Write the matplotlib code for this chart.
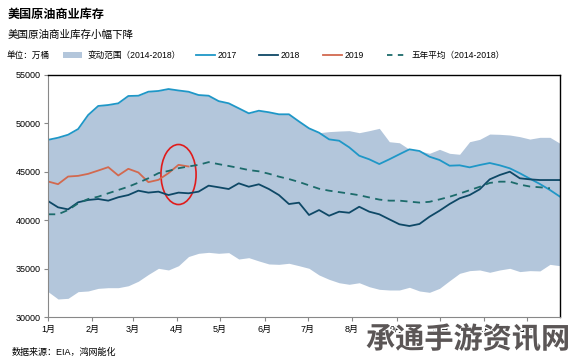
import numpy as np
import matplotlib
matplotlib.use("Agg")
import matplotlib.pyplot as plt
from matplotlib.patches import Ellipse, Rectangle
from matplotlib.lines import Line2D
import matplotlib.patheffects as pe

plt.rcParams['font.family'] = ['Liberation Sans', 'Noto Sans CJK SC']

# weekly values, unit: 10k barrels
band_high = [48300, 48520, 48830, 49420, 50870, 51800, 51900, 52075, 52830, 52860,
             53275, 53350, 53550, 53400, 53270, 52930, 52860, 52300, 52075, 51560,
             51040, 51310, 51150, 50940, 50940, 50200, 49490, 49040, 49150, 49210,
             49250, 49040, 49250, 49490, 48110, 48000, 47320, 47150, 46910, 47320,
             46910, 46810, 48110, 48350, 48900, 48870, 48800, 48630, 48380, 48560,
             48560, 47940]
band_low = [32620, 31860, 31930, 32620, 32690, 32960, 33030, 33030, 33230, 33700,
            34400, 35030, 34860, 35300, 36250, 36580, 36680, 36580, 36650, 35990,
            36130, 35790, 35480, 35440, 35550, 35300, 35030, 34340, 33890, 33540,
            33380, 33540, 33130, 32860, 32790, 32790, 33070, 32690, 32550, 32960,
            33750, 34510, 34790, 34860, 34620, 34860, 35030, 34690, 34790, 34760,
            35440, 35300]
y2017 = [48300, 48520, 48830, 49420, 50870, 51800, 51900, 52075, 52830, 52860,
         53275, 53350, 53550, 53400, 53270, 52930, 52860, 52300, 52075, 51560,
         51040, 51310, 51150, 50940, 50940, 50200, 49490, 49040, 48350, 48210,
         47530, 46660, 46290, 45800, 46290, 46810, 47320, 47150, 46560, 46220,
         45630, 45670, 45460, 45700, 45910, 45670, 45360, 44850, 44290, 43740,
         43120, 42430]
y2018 = [41980, 41330, 41120, 41850, 42090, 42190, 42020, 42370, 42600, 43050,
         42850, 42950, 42600, 42850, 42780, 42950, 43570, 43400, 43220, 43810,
         43460, 43710, 43220, 42600, 41670, 41810, 40540, 41050, 40460, 40880,
         40770, 41390, 40880, 40610, 40090, 39580, 39400, 39610, 40360, 40980,
         41670, 42260, 42600, 43190, 44220, 44670, 45010, 44330, 44220, 44150,
         44150, 44150]
y2019 = [44000, 43720, 44510, 44580, 44790, 45130, 45480, 44620, 45310, 44930,
         43930, 44170, 44860, 45720, 45550]
avg5 = [40610, 40610, 41050, 41740, 42190, 42430, 42780, 43120, 43460, 43880,
        44330, 44860, 45090, 45370, 45550, 45720, 46000, 45790, 45600, 45400,
        45180, 45050, 44800, 44500, 44250, 43950, 43600, 43250, 43050, 42900,
        42750, 42580, 42350, 42130, 42020, 42020, 41920, 41820, 41900, 42150,
        42420, 42750, 43100, 43450, 43850, 43980, 43980, 43680, 43480, 43400,
        43300, 43230]

days = np.arange(len(y2017)) * 7
month_days = [0, 31, 59, 90, 120, 151, 181, 212, 243, 273, 304, 334]
month_labels = ['1月', '2月', '3月', '4月', '5月', '6月', '7月', '8月', '9月', '10月', '11月', '12月']

c_band = '#b3c6db'
c17 = '#1f97c7'
c18 = '#0e4866'
c19 = '#d2694f'
c_avg = '#1c6b6b'

fig = plt.figure(figsize=(5.73, 3.63), dpi=100)
ax = fig.add_axes([0.0838, 0.1267, 0.8935, 0.6667])

ax.fill_between(days, band_low, band_high, color=c_band, lw=0)
ax.plot(days, y2017, color=c17, lw=1.3)
ax.plot(days, y2018, color=c18, lw=1.3)
ax.plot(days[:len(y2019)], y2019, color=c19, lw=1.3)
ax.plot(days[:-1], avg5[:-1], color=c_avg, lw=1.3, dashes=(4, 3))

ax.add_patch(Ellipse((91, 44720), 24.5, 6200, fill=False, ec='#e01b1b', lw=1.2))

ax.set_xlim(0, 357)
ax.set_ylim(30000, 55000)
ax.set_yticks(range(30000, 55001, 5000))
ax.set_xticks(month_days)
ax.set_xticklabels(month_labels, fontsize=6.5)
ax.tick_params(axis='y', labelsize=6.5, length=3, color='#888888', pad=2)
ax.tick_params(axis='x', length=3, color='#888888', pad=3)
for s in ['left', 'bottom']:
    ax.spines[s].set_color('#888888')
for s in ['top', 'right']:
    ax.spines[s].set_color('black')
    ax.spines[s].set_linewidth(1.0)

# header
fig.text(8 / 573, 1 - 15 / 363, '美国原油商业库存', fontsize=8.7, fontweight='bold', va='center')
fig.text(8 / 573, 1 - 35 / 363, '美国原油商业库存小幅下降', fontsize=7.6, va='center')

# legend row
ly = 1 - 55 / 363
fig.text(7 / 573, ly, '单位：万桶', fontsize=6.2, va='center')
fig.add_artist(Rectangle((63 / 573, 1 - 57.5 / 363), 19 / 573, 5 / 363,
                         transform=fig.transFigure, color=c_band, lw=0))
fig.text(88 / 573, ly, '变动范围（2014-2018）', fontsize=6.2, va='center')
legend_items = [(196, '2017', c17, '-'), (259, '2018', c18, '-'), (323, '2019', c19, '-'),
                (387, '五年平均（2014-2018）', c_avg, '--')]
for x0, lab, col, ls in legend_items:
    ln = Line2D([x0 / 573, (x0 + 19) / 573], [ly, ly], transform=fig.transFigure,
                color=col, lw=1.3)
    if ls == '--':
        ln.set_dashes((3, 3))
    fig.add_artist(ln)
    tx = x0 + 22 if ls == '-' else x0 + 25
    fig.text(tx / 573, ly, lab, fontsize=6.2, va='center')

fig.text(12 / 573, 1 - 352 / 363, '数据来源：EIA，鸿网能化', fontsize=6.5, va='center')

wm = fig.text(366 / 573, 1 - 340 / 363, '承通手游资讯网', fontsize=21, fontweight='bold',
              color='#5b5656', va='center', ha='left')
wm.set_path_effects([pe.withStroke(linewidth=2, foreground='white')])

fig.savefig('out.png', dpi=100)
